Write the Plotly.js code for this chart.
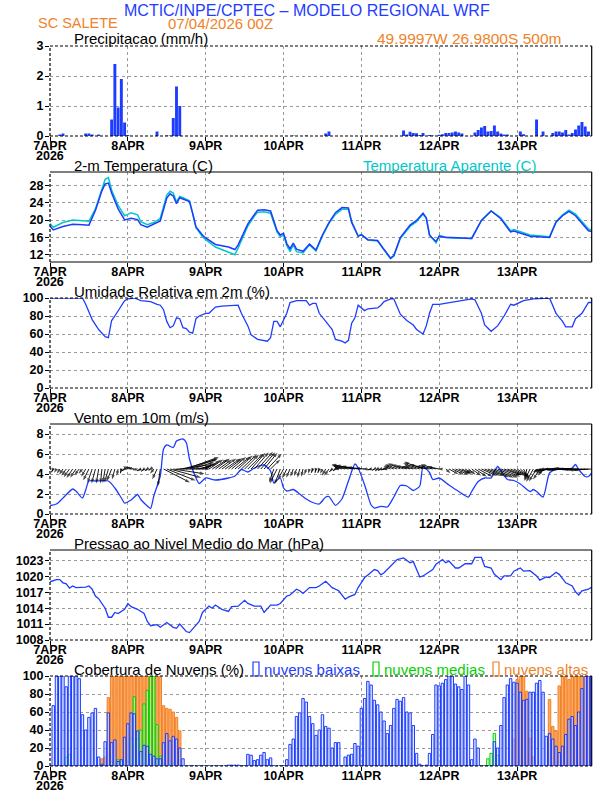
<!DOCTYPE html>
<html><head><meta charset="utf-8">
<script src="https://cdn.plot.ly/plotly-3.0.1.min.js"></script>
<style>html,body{margin:0;padding:0;background:#fff}#chart{width:612px;height:792px}</style>
</head><body><div id="chart"></div>
<script>
// ---------------- DATA ----------------
const dayTickHours = [0,24,48,72,96,120,144];
const dayTickLabels = ['7APR','8APR','9APR','10APR','11APR','12APR','13APR'];
const yearLabel = '2026';

const precipHours = [3,4,11,12,13,15,19,20,21,22,23,24,33,36,37,38,39,40,75,79,85,86,
  109,110,111,112,113,114,115,117,118,120,121,122,123,124,125,126,127,
  131,132,133,134,135,136,137,138,139,140,141,145,146,150,152,
  155,156,157,158,159,160,161,162,163,164,165,166];
const precipValues = [0.05,0.08,0.08,0.08,0.05,0.05,0.55,2.4,0.95,1.9,0.45,0.03,0.15,0.02,0.02,0.6,1.65,1.0,0.02,0.02,0.08,0.15,
  0.18,0.05,0.14,0.1,0.09,0.03,0.1,0.03,0.02,0.04,0.06,0.1,0.1,0.12,0.15,0.12,0.08,
  0.12,0.2,0.28,0.33,0.15,0.17,0.35,0.15,0.08,0.05,0.05,0.15,0.06,0.55,0.15,
  0.1,0.15,0.15,0.12,0.2,0.05,0.1,0.22,0.35,0.47,0.32,0.15];

const tempHours = [0,1,4,7,10,12,14,16,17,18,19,21,23,24,25,27,28,30,32,34,36,37,38,39,40,41,43,44,45,47,48,51,55,57,58,61,63,64,66,68,70,71,72,73,74,75,76,78,80,82,84,86,88,90,92,93,95,96,98,101,103,105,106,108,111,113,115,116,117,119,120,122,124,130,133,136,139,142,143,148,154,156,158,160,162,164,166,167];
const tempValues = [18.6,17.7,18.5,19.0,18.9,18.8,22.2,26.8,28.4,28.6,26.3,22.6,20.0,20.2,20.4,20.1,18.9,18.3,19.0,19.8,25.1,26.1,25.6,23.8,25.2,24.9,24.3,21.5,18.4,16.5,15.8,14.3,13.7,13.1,14.2,19.1,21.3,22.3,22.4,22.1,17.5,16.5,16.9,14.5,13.3,14.6,13.2,12.7,14.4,13.0,16.5,19.4,21.7,22.9,22.8,19.5,16.2,16.6,15.4,15.2,13.1,11.1,11.7,15.9,18.8,19.9,21.6,20.5,16.4,15.0,16.2,15.9,15.9,15.7,19.9,22.1,20.3,17.2,17.4,16.2,15.9,19.5,21.0,22.0,21.0,19.3,17.5,17.3];
const apparentValues = [19.2,18.3,19.4,20.0,19.8,19.7,22.6,27.6,29.5,29.9,27.0,23.4,21.0,21.3,21.7,21.2,19.6,18.9,19.4,20.4,25.8,26.7,26.3,24.2,25.5,25.2,24.5,21.5,18.2,16.1,15.4,13.7,12.6,11.9,13.5,18.6,20.9,21.8,21.9,21.6,17.2,16.1,16.5,14.0,12.6,14.2,12.6,12.3,14.2,12.8,16.3,19.2,21.3,22.5,22.5,19.5,16.3,16.6,15.3,15.1,13.0,11.0,11.6,15.7,18.5,19.6,21.4,20.4,16.6,14.7,16.4,16.0,15.8,15.7,19.9,22.1,20.5,17.5,17.8,16.5,16.1,19.6,21.2,22.3,21.4,19.7,17.9,17.7];

const rhHours = [0,10,11,13,15,17,18,19,20,22,23,24,26,28,31,33,34,35,36,37,38,39,40,41,42,43,44,45,46,48,49,51,53,58,59,61,62,64,67,68,69,70,71,73,74,76,79,80,81,82,83,85,87,88,90,91,92,93,94,95,97,98,101,102,103,105,106,108,110,112,113,115,116,117,118,120,122,125,130,131,133,134,136,138,140,142,143,146,149,154,156,158,159,161,162,164,166,167];
const rhValues = [100,100,93,76,65,57,56,75,80,91,97,99,100,97,96,93,92,87,74,67,69,78,77,67,66,62,61,77,80,83,83,90,91,92,83,69,59,54,52,56,74,74,68,83,95,97,97,92,94,94,83,74,65,54,52,50,53,72,78,92,86,88,89,92,96,99,99,82,75,70,65,60,69,83,93,93,94,96,99,98,83,70,63,69,80,93,92,97,99,100,83,74,68,68,77,83,95,95];

const windHours = [0,2,4,7,8,10,11,12,14,18,20,22,23,25,27,28,30,31,32,34,35,36,38,39,41,42,43,45,46,48,51,55,57,59,61,63,66,68,69,70,71,72,73,75,77,79,81,83,85,86,88,90,92,94,95,97,99,100,102,104,106,108,110,112,114,115,117,118,120,123,126,129,130,132,134,136,137,138,139,141,143,145,148,149,150,152,154,156,159,161,162,163,165,166,167];
const windSpeed = [0.85,1.0,1.6,2.5,2.3,1.6,2.4,3.3,3.3,3.3,2.6,1.6,1.1,1.4,1.95,1.45,0.8,0.55,1.8,3.8,6.5,6.9,6.65,7.3,7.5,7.15,5.5,3.6,3.05,3.6,3.4,3.6,3.8,4.45,4.2,4.6,4.9,4.3,3.1,3.4,3.6,2.6,2.3,2.45,2.0,1.5,1.15,1.0,1.7,1.75,0.87,1.5,3.3,5.0,4.6,2.9,0.9,0.6,0.77,0.7,1.7,2.85,2.8,2.35,2.8,4.75,4.15,3.45,3.6,2.9,2.25,1.7,2.25,3.25,3.6,3.6,4.25,4.75,4.35,3.45,3.35,3.0,2.25,2.45,2.25,1.7,4.1,4.45,4.45,4.6,4.95,4.45,3.75,3.75,4.1];

// hourly wind components (m/s), 7APR 00Z .. 13APR 23Z
const windU = [
 -0.4,-0.4,-0.5,-0.6,-0.8,-1.0,-1.2,-1.3,-1.2,-1.0,-0.8,-0.9,-1.2,-1.0,-0.8,-0.5,-0.3,-0.5,-0.8,-1.0,-0.6,-0.3,-0.2,-0.6,
 -1.0,-1.2,-1.5,-1.2,-0.8,-0.6,-0.5,-0.4,-0.8,-1.0,-0.5, 5.5, 6.0, 6.5, 6.5, 7.0, 7.2, 7.0, 6.8, 6.0, 4.5, 3.0, 2.8, 3.0,
  3.0, 3.0, 3.2, 3.0, 2.8, 3.0, 3.2, 3.0, 3.0, 3.2, 3.0, 3.2, 3.0, 3.2, 3.0, 3.0, 3.2, 3.0, 2.8, 3.0, 2.0,-1.0,-1.5,-1.2,
 -1.2,-1.0,-0.8,-0.6,-0.5,-0.5,-0.4,-0.4,-0.3,-0.3,-0.2,-0.3,-0.5,-0.8,-1.0,-0.6,-0.5,-1.0,-1.5,-2.5,-3.5,-4.2,-4.0,-3.5,
 -3.0,-2.0,-1.2,-0.8,-0.5,-0.5,-0.6,-0.6,-1.0,-1.5,-2.0,-2.5,-2.6,-2.5,-2.3,-2.0,-2.2,-2.5,-3.5,-4.0,-3.5,-3.0,-3.0,-3.2,
 -2.5,-1.0, 1.0, 2.0, 2.5, 2.8, 2.5, 2.0, 1.5, 1.5, 2.0, 2.5, 3.0, 3.2, 3.3, 3.5, 3.8, 4.0, 4.2, 4.0, 3.5, 3.0, 2.8, 2.8,
  2.5, 2.0, 1.0,-0.5,-1.2,-1.5,-1.6,-1.4,-1.0,-2.0,-3.5,-4.0,-4.2,-4.2,-4.0,-4.2,-4.3,-4.5,-4.5,-4.2,-3.8,-3.5,-3.5,-3.8];
const windV = [
 -0.6,-0.7,-0.8,-1.0,-1.2,-1.4,-1.7,-1.9,-1.8,-1.3,-1.0,-1.6,-2.4,-2.9,-3.0,-3.0,-3.0,-2.9,-2.8,-2.5,-2.2,-1.4,-0.9,-0.4,
  0.6, 0.5, 0.3,-0.2,-0.4,-0.5,-0.4,-0.3,-1.0,-2.2,-3.6,-2.8,-2.4,-1.8,-1.0, 0.0, 1.0, 2.0, 2.5, 2.2, 1.5, 0.5, 0.8, 1.2,
  1.8, 2.0, 2.0, 2.2, 2.0, 2.2, 2.2, 2.3, 2.5, 2.6, 2.8, 3.0, 3.0, 3.2, 3.4, 3.5, 3.6, 3.5, 3.4, 3.2, 2.0,-2.8,-3.0,-3.2,
 -2.2,-2.0,-1.8,-1.6,-1.5,-1.8,-1.6,-1.2,-1.0,-0.8,-0.8,-0.8,-1.0,-1.4,-1.4,-0.6,-0.4, 0.2, 0.4, 0.6, 0.8, 1.0, 0.8, 0.6,
  0.4, 0.2, 0.0,-0.2,-0.3,-0.4,-0.3,-0.2, 0.2, 0.6, 0.8, 1.0, 1.2, 1.0, 0.8, 0.6, 0.6, 0.8, 1.2, 1.5, 1.0, 0.6, 0.8, 1.0,
  0.5, 0.0,-0.9,-1.1,-1.2,-1.2,-1.0,-1.0,-0.9,-1.2,-1.4,-1.6,-1.6,-1.4,-1.4,-1.5,-1.7,-1.8,-1.8,-1.6,-1.3,-1.3,-1.3,-1.5,
 -1.6,-1.8,-2.0,-2.3,-2.5,-2.7,-2.6,-2.2,-1.4,-1.0,-0.6,-0.3,-0.2, 0.0, 0.0,-0.2,-0.2, 0.0, 0.2, 0.0,-0.2,-0.3,-0.2,-0.2];

const pressHours = [0,2,3,4,5,6,7,8,11,12,13,14,15,17,18,19,20,21,23,24,25,27,29,30,31,33,34,36,38,39,40,41,42,43,44,46,47,49,50,51,53,55,56,58,60,61,63,65,66,68,70,71,73,74,76,77,78,80,82,83,85,86,87,89,90,91,92,94,95,97,98,100,101,102,103,105,106,107,109,110,111,112,113,114,115,117,118,119,121,122,123,125,126,128,130,131,133,134,136,137,139,140,142,143,145,146,148,150,151,153,154,156,157,159,161,162,163,164,166,167];
const pressValues = [1019.0,1019.4,1019.4,1018.8,1018.6,1017.8,1018.2,1017.9,1018.0,1018.2,1017.6,1016.3,1015.8,1014.0,1012.3,1012.3,1013.2,1013.0,1013.8,1014.9,1014.3,1013.8,1013.0,1011.5,1010.7,1010.9,1010.4,1011.3,1010.4,1010.2,1011.0,1010.3,1009.6,1009.4,1010.1,1011.5,1013.2,1014.4,1014.0,1014.6,1013.8,1013.4,1014.3,1014.4,1015.5,1014.9,1014.4,1014.4,1013.2,1014.6,1014.6,1014.9,1016.3,1016.5,1017.6,1017.3,1016.8,1017.9,1017.9,1018.2,1019.1,1018.5,1017.9,1017.3,1016.5,1015.7,1016.1,1016.6,1017.9,1019.8,1020.3,1021.3,1021.1,1020.3,1020.7,1021.9,1022.6,1023.2,1023.5,1023.0,1022.6,1022.8,1021.3,1019.9,1020.1,1020.9,1021.3,1022.3,1023.2,1022.6,1022.9,1021.6,1021.6,1022.4,1022.4,1023.6,1023.6,1021.9,1021.6,1020.4,1019.4,1020.1,1020.1,1021.0,1021.6,1021.0,1021.1,1020.1,1019.3,1019.9,1019.8,1020.8,1020.4,1018.8,1018.2,1017.1,1016.5,1017.3,1017.6,1018.0];

// hourly cloud cover (%)
const cloudLow = [
  0,67,100,100,100,88,100,100,100,97,57,40,54,59,64,10,2,27,59,26,29,5,7,32,
  47,59,58,39,16,23,22,13,11,8,8,26,36,28,33,30,20,8,0,0,0,0,0,0,
  0,0,0,0,0,0,0,1,1,1,1,0,0,13,12,6,7,12,15,7,9,0,0,0,
  0,7,24,30,55,59,75,71,55,47,34,40,57,44,42,20,26,26,0,10,12,13,25,22,
  64,75,94,90,73,68,60,50,36,45,64,74,72,76,60,59,45,14,2,0,1,14,35,90,
  89,92,96,100,100,91,88,85,100,90,7,30,20,0,0,0,0,27,20,45,76,90,97,93,
  92,82,73,74,82,82,92,95,82,33,36,30,22,15,22,35,52,55,45,60,86,100,100,100];
const cloudMid = [
  0,0,0,0,0,10,13,0,0,0,0,0,0,0,0,0,0,0,0,5,0,7,5,0,
  5,30,77,30,40,69,84,100,100,46,11,3,0,0,3,0,0,0,0,0,0,0,0,0,
  0,0,0,0,0,0,0,0,0,0,0,0,0,0,0,0,0,0,0,0,0,0,0,0,
  0,0,0,0,0,0,0,0,0,0,0,0,0,0,0,0,0,0,0,0,0,2,0,0,
  0,0,0,0,0,0,0,0,0,0,0,0,0,0,0,0,0,0,0,0,0,0,0,0,
  0,0,0,0,0,0,0,0,0,0,0,0,0,0,0,8,14,36,12,0,0,0,0,0,
  0,0,0,0,0,0,0,0,0,0,0,0,0,0,0,0,0,0,0,0,0,0,0,0];
const cloudHigh = [
  0,0,0,0,0,0,0,0,0,0,0,0,0,0,0,0,8,10,76,100,100,100,100,100,
  100,100,100,100,100,100,100,100,100,100,100,67,64,63,60,54,39,0,0,0,0,0,0,0,
  0,0,0,0,0,0,0,0,0,0,0,0,0,0,0,0,0,0,0,0,0,0,0,0,
  0,0,0,0,0,0,0,0,0,0,0,0,0,0,0,0,0,0,0,0,0,0,0,0,
  0,0,0,0,0,0,0,0,0,0,0,0,0,0,0,0,0,0,0,0,0,0,0,0,
  0,0,0,0,0,0,0,0,0,0,0,0,0,0,0,0,0,0,0,0,0,0,0,30,
  96,100,100,83,31,10,0,0,0,0,74,44,39,89,100,100,96,100,100,100,100,100,100,100];

// ---------------- STYLE ----------------
const BLUE = 'rgb(30,60,255)', CYAN = 'rgb(0,200,200)', GREEN = 'rgb(0,210,0)', ORANGE = 'rgb(240,130,40)';
const TFONT = 'Liberation Sans, Arial, sans-serif';
const TICKFONT = {family: 'Liberation Sans Narrow, Liberation Sans, Arial, sans-serif', size: 12.5, color: '#000', weight: 'bold'};
const W = 612, H = 792;
const XDOM = [50/W, 591.7/W];
const panels = [[46,136],[172,262],[298,388],[424,514],[550,640],[676,766]];
const yRanges = [[0,3],[10.2,31.2],[0,100],[0,9],[1008,1025],[0,100]];
const yTicks = [[0,1,2,3],[12,16,20,24,28],[0,20,40,60,80,100],[0,2,4,6,8],[1008,1011,1014,1017,1020,1023],[0,20,40,60,80,100]];
const hourIdx = cloudLow.map((_, i) => i);

const layout = {width: W, height: H, margin: {l:0,r:0,t:0,b:0}, paper_bgcolor:'#fff', plot_bgcolor:'#fff',
  showlegend:false, barmode:'overlay', annotations: [], shapes: []};

const txt = (text, x, y, color, size, anchor, fam) => ({text, xref:'paper', yref:'paper', x: x/W, y: 1 - y/H,
  xanchor: anchor || 'left', yanchor: 'middle', showarrow: false, font: {family: fam || TFONT, size, color}});

panels.forEach((p, i) => {
  const n = i === 0 ? '' : String(i+1);
  layout['xaxis'+n] = {domain: XDOM, range: [0,167], anchor: 'y'+n, tickvals: dayTickHours, ticktext: dayTickLabels,
    ticks: 'outside', ticklen: 4, tickcolor: '#000', ticklabelstandoff: -6, showgrid: true, gridcolor: '#9a9a9a', griddash: 'dot', gridwidth: 1,
    zeroline: false, showline: false, tickfont: TICKFONT, fixedrange: true};
  layout['yaxis'+n] = {domain: [1 - p[1]/H, 1 - p[0]/H], range: yRanges[i], anchor: 'x'+n, tickvals: yTicks[i],
    ticks: 'outside', ticklen: 4, tickcolor: '#000', ticklabelstandoff: -1, showgrid: true, gridcolor: '#9a9a9a', griddash: 'dot', gridwidth: 1,
    zeroline: false, showline: false, tickfont: TICKFONT, fixedrange: true};
  const xr = (i === 0 ? 'x' : 'x'+n) + ' domain', yr = (i === 0 ? 'y' : 'y'+n) + ' domain';
  const dashedTop = [true,false,true,false,false,true][i];
  const dashedBottom = [true,false,true,true,true,true][i];
  const seg = (x0,y0,x1,y1,dash) => ({type:'line', xref:xr, yref:yr, x0, y0, x1, y1, layer:'above',
    line:{color:'#000', width:1.2, dash: dash ? '3px,2px' : 'solid'}});
  layout.shapes.push(seg(0,0,0,1,true), seg(1,0,1,1,false), seg(0,1,1,1,dashedTop), seg(0,0,1,0,dashedBottom));
  const yr2026 = txt(yearLabel, 50, p[1] + 20, '#000', 12.5, 'center', TICKFONT.family);
  yr2026.font.weight = 'bold';
  layout.annotations.push(yr2026);
});

layout.annotations.push(
  txt('MCTIC/INPE/CPTEC – MODELO REGIONAL WRF', 307, 10, BLUE, 16, 'center'),
  txt('SC SALETE', 36, 23, ORANGE, 14.5),
  txt('07/04/2026 00Z', 166, 23, ORANGE, 15),
  txt('49.9997W 26.9800S 500m', 563, 38, ORANGE, 15.5, 'right'),
  txt('Precipitacao (mm/h)', 72, 39, '#000', 15),
  txt('2-m Temperatura (C)', 72, 165, '#000', 15),
  txt('Temperatura Aparente (C)', 361, 165, CYAN, 15),
  txt('Umidade Relativa em 2m (%)', 72, 291, '#000', 15),
  txt('Vento em 10m (m/s)', 72, 417, '#000', 15),
  txt('Pressao ao Nivel Medio do Mar (hPa)', 72, 543, '#000', 15),
  txt('Cobertura de Nuvens (%)', 72, 669, '#000', 15),
  txt('nuvens baixas', 262, 669, BLUE, 15),
  txt('nuvens medias', 382, 669, GREEN, 15),
  txt('nuvens altas', 502, 669, ORANGE, 15)
);
[[253,BLUE],[373,GREEN],[493,ORANGE]].forEach(([x,c]) => layout.shapes.push({type:'rect', xref:'paper', yref:'paper',
  x0: x/W, x1: (x+6)/W, y0: 1-676/H, y1: 1-662/H, line:{color:c, width:1.2}, fillcolor:'rgba(0,0,0,0)'}));

// wind vectors drawn from a baseline at 4.5 m/s on the speed axis
const VEC_BASE = 4.5, VEC_KX = 1.48, VEC_KY = 0.48;
const vecX = [], vecY = [], vecSize = [];
windU.forEach((u, h) => {
  vecX.push(h, h + u*VEC_KX, null);
  vecY.push(VEC_BASE, VEC_BASE + windV[h]*VEC_KY, null);
  vecSize.push(0, 5, 0);
});

const traces = [
  {type:'bar', x: precipHours, y: precipValues, xaxis:'x', yaxis:'y', width: 0.9, marker:{color: BLUE, line:{width:0}}},
  {type:'scatter', mode:'lines', x: tempHours, y: apparentValues, xaxis:'x2', yaxis:'y2', line:{color: CYAN, width:1.5}},
  {type:'scatter', mode:'lines', x: tempHours, y: tempValues, xaxis:'x2', yaxis:'y2', line:{color: BLUE, width:1.5}},
  {type:'scatter', mode:'lines', x: rhHours, y: rhValues, xaxis:'x3', yaxis:'y3', line:{color: BLUE, width:1.3}},
  {type:'scatter', mode:'lines', x: windHours, y: windSpeed, xaxis:'x4', yaxis:'y4', line:{color: BLUE, width:1.3, shape:'spline', smoothing:0.6}},
  {type:'scatter', mode:'lines+markers', x: vecX, y: vecY, xaxis:'x4', yaxis:'y4', connectgaps:false,
    line:{color:'#000', width:0.9}, marker:{symbol:'arrow', size: vecSize, angleref:'previous', color:'#000', line:{width:0}}},
  {type:'scatter', mode:'lines', x: pressHours, y: pressValues, xaxis:'x5', yaxis:'y5', line:{color: BLUE, width:1.3}},
  {type:'bar', x: hourIdx, y: cloudHigh, xaxis:'x6', yaxis:'y6', width: 0.75, marker:{color:'rgb(255,170,100)', line:{color: ORANGE, width:1}}},
  {type:'bar', x: hourIdx, y: cloudMid, xaxis:'x6', yaxis:'y6', width: 0.75, marker:{color:'rgba(190,255,190,0.5)', line:{color: GREEN, width:1}}},
  {type:'bar', x: hourIdx, y: cloudLow, xaxis:'x6', yaxis:'y6', width: 0.75, marker:{color:'rgba(200,215,255,0.55)', line:{color: BLUE, width:1}}}
];

Plotly.newPlot('chart', traces, layout, {staticPlot: true, displayModeBar: false});
</script></body></html>
